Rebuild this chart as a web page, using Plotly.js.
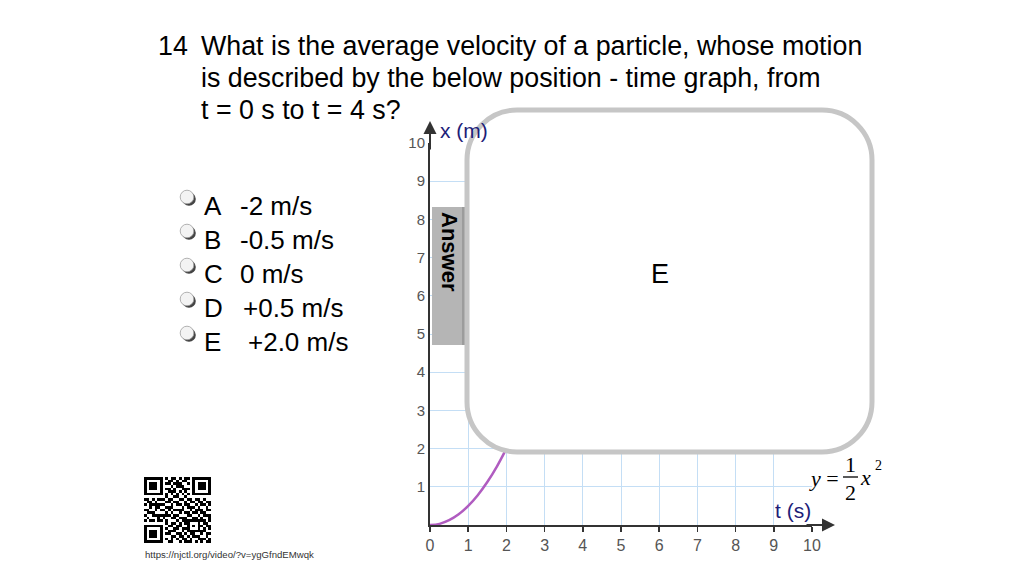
<!DOCTYPE html>
<html>
<head>
<meta charset="utf-8">
<script src="https://cdn.plot.ly/plotly-3.0.1.min.js"></script>
<style>
  html, body { margin: 0; padding: 0; background: #ffffff; }
  #chart { width: 1024px; height: 576px; }
</style>
</head>
<body>
<div id="chart"></div>
<script>
// ---------- data ----------
const T_VALUES = [0, 0.25, 0.5, 0.75, 1, 1.25, 1.5, 1.75, 2];          // t (s)
const X_VALUES = [0, 0.03, 0.125, 0.28, 0.5, 0.78, 1.125, 1.53, 2];     // x (m)
const X_TICKS = [0, 1, 2, 3, 4, 5, 6, 7, 8, 9, 10];
const Y_TICKS = [1, 2, 3, 4, 5, 6, 7, 8, 9, 10];

const QUESTION_NUMBER = "14";
const QUESTION_LINES = [
  "What is the average velocity of a particle, whose motion",
  "is described by the below position - time graph, from",
  "t = 0 s to t = 4 s?"
];
const OPTION_LETTERS = ["A", "B", "C", "D", "E"];
const OPTION_VALUES = ["-2 m/s", "-0.5 m/s", "0 m/s", "+0.5 m/s", "+2.0 m/s"];
const ANSWER_LABEL = "Answer";
const ANSWER_TEXT = "E";
const X_TITLE = "x (m)";
const T_TITLE = "t (s)";
const URL_TEXT = "https://njctl.org/video/?v=ygGfndEMwqk";

const QR_ROWS = [
  "1111111010110101101111111",
  "1000001001101011001000001",
  "1011101011011100101011101",
  "1011101000101110001011101",
  "1011101011010011101011101",
  "1000001001110101001000001",
  "1111111010101010101111111",
  "0000000010011001000000000",
  "1101011101100110110110100",
  "0110100011011001011011011",
  "1011111100101101100101101",
  "0010110011100010111010010",
  "1100101101011110010111011",
  "0111000010100101101101100",
  "1001111111011000110010111",
  "0100010100110111001101001",
  "1011011010001011111111101",
  "0000000010110101100010110",
  "1111111001101100101011011",
  "1000001010011011100010101",
  "1011101001110010111111100",
  "1011101011001101011001011",
  "1011101000110110101110010",
  "1000001010101011010011101",
  "1111111001100101110101011"
];

// ---------- helpers (pixel -> paper) ----------
const W = 1024, H = 576;
const px = x => x / W;
const py = y => 1 - y / H;
const SANS = "Liberation Sans, Arial, Helvetica, sans-serif";
const SERIF = "Liberation Serif, Times New Roman, serif";

// ---------- traces ----------
const curve = {
  type: "scatter", mode: "lines",
  x: T_VALUES, y: X_VALUES,
  line: { color: "#b05cc0", width: 2.5, shape: "spline" },
  hoverinfo: "skip", showlegend: false
};
const qr = {
  type: "heatmap", xaxis: "x2", yaxis: "y2",
  z: QR_ROWS.map(r => r.split("").map(Number)),
  colorscale: [[0, "#ffffff"], [1, "#000000"]],
  showscale: false, hoverinfo: "skip", zmin: 0, zmax: 1
};

// ---------- shapes ----------
const shapes = [];
// Answer tab
shapes.push({ type: "rect", xref: "paper", yref: "paper", layer: "above",
  x0: px(432), x1: px(467), y0: py(345), y1: py(207),
  fillcolor: "#b5b5b5", line: { width: 0 } });
shapes.push({ type: "rect", xref: "paper", yref: "paper", layer: "above",
  x0: px(462), x1: px(467), y0: py(345), y1: py(207),
  fillcolor: "#9c9c9c", line: { width: 0 } });
// rounded answer box
(function () {
  const L = 467, R = 872, T = 110, B = 452, r = 50, k = 0.5523 * r;
  const p = (x, y) => px(x) + "," + py(y);
  const d = "M" + p(L + r, T) + " L" + p(R - r, T) +
    " C" + p(R - r + k, T) + " " + p(R, T + r - k) + " " + p(R, T + r) +
    " L" + p(R, B - r) +
    " C" + p(R, B - r + k) + " " + p(R - r + k, B) + " " + p(R - r, B) +
    " L" + p(L + r, B) +
    " C" + p(L + r - k, B) + " " + p(L, B - r + k) + " " + p(L, B - r) +
    " L" + p(L, T + r) +
    " C" + p(L, T + r - k) + " " + p(L + r - k, T) + " " + p(L + r, T) + " Z";
  shapes.push({ type: "path", xref: "paper", yref: "paper", layer: "above",
    path: d, fillcolor: "#ffffff", line: { color: "#c6c6c6", width: 5 } });
})();
// radio buttons
OPTION_LETTERS.forEach((_, i) => {
  const cx = 187, cy = 197 + i * 34, rr = 6.8;
  shapes.push({ type: "circle", xref: "paper", yref: "paper", layer: "above",
    x0: px(cx - rr + 2), x1: px(cx + rr + 2), y0: py(cy + rr + 2), y1: py(cy - rr + 2),
    fillcolor: "#444444", line: { width: 0 } });
  shapes.push({ type: "circle", xref: "paper", yref: "paper", layer: "above",
    x0: px(cx - rr), x1: px(cx + rr), y0: py(cy + rr), y1: py(cy - rr),
    fillcolor: "#f3f3f3", line: { color: "#a0a0a0", width: 0.8 } });
});
// fraction bar in equation
shapes.push({ type: "line", xref: "paper", yref: "paper", layer: "above",
  x0: px(843), x1: px(858), y0: py(477), y1: py(477),
  line: { color: "#000000", width: 1.3 } });

// ---------- annotations ----------
const ann = [];
const txt = (text, x, y, size, opts) => Object.assign({
  text: text, xref: "paper", yref: "paper", x: px(x), y: py(y),
  xanchor: "left", yanchor: "middle", showarrow: false,
  font: { family: SANS, size: size, color: "#000000" }
}, opts || {});

ann.push(txt(QUESTION_NUMBER, 156, 46, 26.8));
QUESTION_LINES.forEach((l, i) => ann.push(txt(l, 199, 46 + i * 32, 26.8)));
OPTION_LETTERS.forEach((l, i) => ann.push(txt(l, 202, 206 + i * 34, 26)));
const valX = [238, 238, 238, 241, 246];
OPTION_VALUES.forEach((v, i) => ann.push(txt(v, valX[i], 206 + i * 34, 26)));

ann.push(txt(ANSWER_LABEL, 450, 252, 22, { xanchor: "center", textangle: 90,
  font: { family: SANS, size: 22, color: "#000000", weight: "bold" } }));
ann.push(txt(ANSWER_TEXT, 660, 274, 27, { xanchor: "center" }));

ann.push(txt(X_TITLE, 438, 130, 21, { font: { family: SANS, size: 21, color: "#1d1d78" } }));
ann.push(txt(T_TITLE, 773, 510, 21, { font: { family: SANS, size: 21, color: "#1d1d78" } }));

// equation y = 1/2 x^2
ann.push(txt("<i>y</i> =", 807, 478, 22, { font: { family: SERIF, size: 22, color: "#000" } }));
ann.push(txt("1", 850.5, 464, 22, { xanchor: "center", font: { family: SERIF, size: 22, color: "#000" } }));
ann.push(txt("2", 850.5, 492, 22, { xanchor: "center", font: { family: SERIF, size: 22, color: "#000" } }));
ann.push(txt("<i>x</i>", 858, 477, 22, { font: { family: SERIF, size: 22, color: "#000" } }));
ann.push(txt("2", 873, 465, 14, { font: { family: SERIF, size: 14, color: "#000" } }));

ann.push(txt(URL_TEXT, 143, 554, 9.6, { font: { family: SANS, size: 9.6, color: "#333333" } }));

// axis arrows
ann.push({ xref: "paper", yref: "paper", x: px(835), y: py(525), ax: -30, ay: 0,
  text: "", showarrow: true, arrowhead: 2, arrowsize: 1.3, arrowwidth: 2, arrowcolor: "#333333" });
ann.push({ xref: "paper", yref: "paper", x: px(430), y: py(121), ax: 0, ay: 30,
  text: "", showarrow: true, arrowhead: 2, arrowsize: 1.3, arrowwidth: 2, arrowcolor: "#333333" });

// ---------- layout ----------
const layout = {
  width: W, height: H,
  margin: { l: 0, r: 0, t: 0, b: 0, pad: 0 },
  paper_bgcolor: "#ffffff", plot_bgcolor: "#ffffff",
  showlegend: false,
  xaxis: {
    domain: [px(430), px(812)], range: [0, 10],
    tickmode: "array", tickvals: X_TICKS, ticktext: X_TICKS.map(String),
    showgrid: true, gridcolor: "#c4def5", gridwidth: 1, zeroline: false,
    showline: true, linecolor: "#333333", linewidth: 2,
    ticks: "outside", ticklen: 5, tickwidth: 1.5, tickcolor: "#333333",
    tickfont: { family: SANS, size: 16, color: "#555555" },
    fixedrange: true
  },
  yaxis: {
    domain: [py(525), py(143)], range: [0, 10],
    tickmode: "array", tickvals: Y_TICKS, ticktext: Y_TICKS.map(String),
    showgrid: true, gridcolor: "#c4def5", gridwidth: 1, zeroline: false,
    showline: true, linecolor: "#333333", linewidth: 2,
    ticks: "", tickfont: { family: SANS, size: 15, color: "#555555" },
    fixedrange: true
  },
  xaxis2: { domain: [px(144), px(211)], anchor: "y2", range: [-0.5, 24.5], visible: false, fixedrange: true },
  yaxis2: { domain: [py(543), py(477)], anchor: "x2", range: [24.5, -0.5], visible: false, fixedrange: true },
  shapes: shapes,
  annotations: ann
};

Plotly.newPlot("chart", [curve, qr], layout, { displayModeBar: false, staticPlot: true });
</script>
</body>
</html>
